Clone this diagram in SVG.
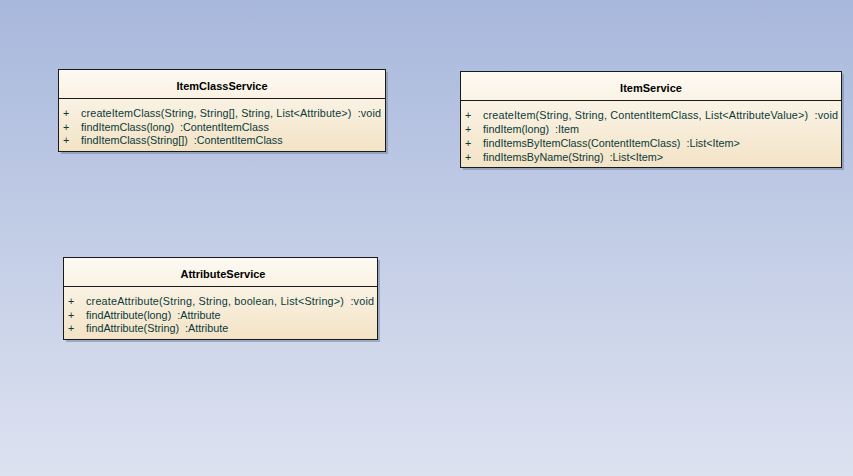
<svg xmlns="http://www.w3.org/2000/svg" width="853" height="476" viewBox="0 0 853 476">
<defs>
<linearGradient id="bg" x1="0" y1="0" x2="0" y2="1">
<stop offset="0" stop-color="#a8b8dc"/>
<stop offset="1" stop-color="#dde2f0"/>
</linearGradient>
<linearGradient id="box" x1="0" y1="0" x2="0" y2="1">
<stop offset="0" stop-color="#fdfaf3"/>
<stop offset="1" stop-color="#f3e3c6"/>
</linearGradient>
</defs>
<style>
.b{fill:url(#box);stroke:#1a1a1a;stroke-width:1}
.sh{fill:#7d8aa6;opacity:0.6}
.sep{stroke:#1a1a1a;stroke-width:1}
.t{font-family:"Liberation Sans",Arial,sans-serif;font-size:11px;font-weight:bold;fill:#000;text-anchor:middle}
.m{font-family:"Liberation Sans",Arial,sans-serif;font-size:10.8px;fill:#0a3a3a;white-space:pre}
</style>
<rect width="853" height="476" fill="url(#bg)"/>
<g id="connectors"/>
<g id="ItemClassService">
<rect class="sh" x="61" y="72" width="327" height="82"/>
<rect class="b" x="58.5" y="69.5" width="327" height="82"/>
<line class="sep" x1="58.5" y1="98.5" x2="385.5" y2="98.5"/>
<text class="t" x="222" y="90">ItemClassService</text>
<text class="m" x="63" y="117">+</text><text class="m" x="81" y="117" textLength="300" lengthAdjust="spacing">createItemClass(String, String[], String, List&lt;Attribute&gt;)  :void</text>
<text class="m" x="63" y="131">+</text><text class="m" x="81" y="131">findItemClass(long)  :ContentItemClass</text>
<text class="m" x="63" y="144">+</text><text class="m" x="81" y="144">findItemClass(String[])  :ContentItemClass</text>
</g>
<g id="ItemService">
<rect class="sh" x="463" y="74" width="381" height="96"/>
<rect class="b" x="460.5" y="71.5" width="381" height="96"/>
<line class="sep" x1="460.5" y1="100.5" x2="841.5" y2="100.5"/>
<text class="t" x="651" y="92">ItemService</text>
<text class="m" x="465" y="119">+</text><text class="m" x="483" y="119" textLength="355" lengthAdjust="spacing">createItem(String, String, ContentItemClass, List&lt;AttributeValue&gt;)  :void</text>
<text class="m" x="465" y="133">+</text><text class="m" x="483" y="133">findItem(long)  :Item</text>
<text class="m" x="465" y="147">+</text><text class="m" x="483" y="147">findItemsByItemClass(ContentItemClass)  :List&lt;Item&gt;</text>
<text class="m" x="465" y="161">+</text><text class="m" x="483" y="161">findItemsByName(String)  :List&lt;Item&gt;</text>
</g>
<g id="AttributeService">
<rect class="sh" x="66" y="260" width="314" height="82"/>
<rect class="b" x="63.5" y="257.5" width="314" height="82"/>
<line class="sep" x1="63.5" y1="286.5" x2="377.5" y2="286.5"/>
<text class="t" x="223" y="278">AttributeService</text>
<text class="m" x="68" y="305">+</text><text class="m" x="86" y="305" textLength="288" lengthAdjust="spacing">createAttribute(String, String, boolean, List&lt;String&gt;)  :void</text>
<text class="m" x="68" y="319">+</text><text class="m" x="86" y="319">findAttribute(long)  :Attribute</text>
<text class="m" x="68" y="332">+</text><text class="m" x="86" y="332">findAttribute(String)  :Attribute</text>
</g>
</svg>
